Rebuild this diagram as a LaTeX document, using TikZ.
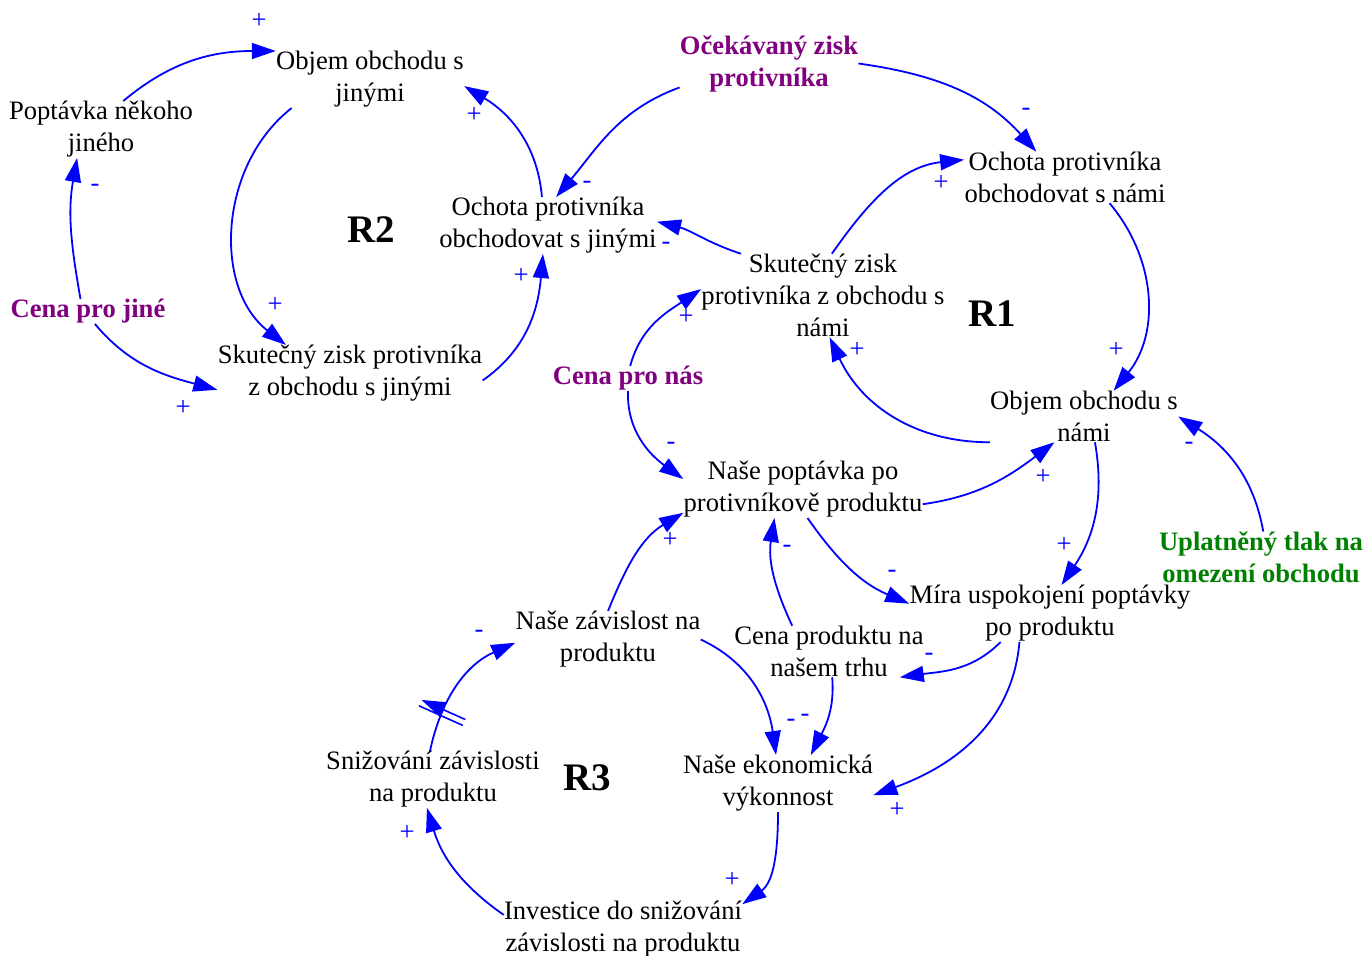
\documentclass[tikz,border=0pt]{standalone}
\usepackage{fontspec}
\setmainfont{Liberation Serif}
\usetikzlibrary{arrows.meta,decorations.markings}
\definecolor{exopurple}{RGB}{128,0,128}
\definecolor{exogreen}{RGB}{0,128,0}
\tikzset{
  var/.style={align=center, inner sep=0pt, yshift=-1.75pt, font=\fontsize{13.3}{16}\selectfont},
  exo/.style={var, font=\fontsize{13.3}{16}\selectfont\bfseries},
  loopname/.style={inner sep=0pt, font=\fontsize{19.5}{23}\selectfont\bfseries},
  link/.style={draw=blue, line width=0.9pt, -{Triangle[length=12pt,width=8pt]}},
  sign/.style={text=blue, inner sep=0pt, font=\fontsize{13.3}{16}\selectfont},
  delay/.style={postaction=decorate, decoration={markings,
    mark=at position #1 with {\draw[blue, line width=0.8pt] (-1.6pt,-12pt) -- (-1.6pt,12pt) (1.6pt,-12pt) -- (1.6pt,12pt);}}}
}
\begin{document}
\begin{tikzpicture}[x=0.5pt, y=-0.5pt]
\useasboundingbox (0,0) rectangle (1367,955);
% promenne
\node[var] (objJ) at (370,76) {Objem obchodu s\\jinými};
\node[var] (poptJ) at (101,126) {Poptávka někoho\\jiného};
\node[exo, text=exopurple] (cenaJ) at (88,308) {Cena pro jiné};
\node[var] (skutJ) at (350,370) {Skutečný zisk protivníka\\z obchodu s jinými};
\node[var] (ochJ) at (548,222) {Ochota protivníka\\obchodovat s jinými};
\node[exo, text=exopurple] (ocek) at (769,60) {Očekávaný zisk\\protivníka};
\node[var] (ochN) at (1065,174) {Ochota protivníka\\obchodovat s námi};
\node[var] (skutN) at (823,292) {Skutečný zisk\\protivníka z obchodu s\\námi};
\node[exo, text=exopurple] (cenaN) at (628,375) {Cena pro nás};
\node[var] (objN) at (1084,413) {Objem obchodu s\\námi};
\node[var] (poptN) at (803,486) {Naše poptávka po\\protivníkově produktu};
\node[exo, text=exogreen] (uplat) at (1261,554) {Uplatněný tlak na\\omezení obchodu};
\node[var] (mira) at (1050,610) {Míra uspokojení poptávky\\po produktu};
\node[var] (zavis) at (608,636) {Naše závislost na\\produktu};
\node[var] (cenaP) at (829,648) {Cena produktu na\\našem trhu};
\node[var] (snizov) at (433,776) {Snižování závislosti\\na produktu};
\node[var] (ekon) at (778,780) {Naše ekonomická\\výkonnost};
\node[var] (invest) at (623,926) {Investice do snižování\\závislosti na produktu};
% smycky
\node[loopname] (R1) at (992,314) {R1};
\node[loopname] (R2) at (371,230) {R2};
\node[loopname] (R3) at (587,778) {R3};
% vazby
\draw[link] (poptJ.52) to[out=40,in=180] (objJ.north west);
\draw[link] (objJ.200) to[out=218,in=142] (skutJ.156);
\draw[link] (cenaJ.121) to[out=100,in=-100] (poptJ.230);
\draw[link] (cenaJ.-61) to[out=-50,in=165] (skutJ.187);
\draw[link] (ochJ.102) to[out=95,in=-31] (objJ.-4);
\draw[link] (skutJ.-3) to[out=35,in=-95] (ochJ.260);
\draw[link] (ocek.195) to[out=200,in=50] (ochJ.74);
\draw[link] (ocek.0) to[out=-8,in=132] (ochN.138);
\draw[link] (skutN.153) to[out=162,in=-14] (ochJ.2);
\draw[link] (skutN.78) to[out=55,in=186] (ochN.170);
\draw[link] (ochN.-30) to[out=-50,in=51] (objN.41);
\draw[link] (objN.south west) to[out=180,in=-65] (skutN.279);
\draw[link] (cenaN.80) to[out=75,in=214] (skutN.177);
\draw[link] (cenaN.south) to[out=268,in=144] (poptN.175);
\draw[link] (poptN.-7) to[out=8,in=217] (objN.221);
\draw[link] (objN.293) to[out=-80,in=56] (mira.68);
\draw[link] (uplat.85) to[out=100,in=-32] (objN.east);
\draw[link] (poptN.279) to[out=-55,in=157] (mira.176);
\draw[link] (zavis.north) to[out=68,in=211] (poptN.191);
\draw[link] (cenaP.145) to[out=115,in=261] (poptN.225);
\draw[link] (mira.210) to[out=225,in=8] (cenaP.-20);
\draw[link] (mira.223) to[out=-95,in=20] (ekon.-7);
\draw[link] (zavis.east) to[out=-25,in=98] (ekon.94);
\draw[link] (cenaP.277) to[out=-85,in=63] (ekon.41);
\draw[link] (ekon.south) to[out=-90,in=35] (invest.12);
\draw[link] (invest.173) to[out=145,in=-73] (snizov.258);
\draw[link, delay=0.28] (snizov.96) to[out=78,in=204] (zavis.182);
% polarity
\foreach \x/\y/\s [count=\i] in {259/21/+, 275/305/+, 95/188/-, 183/408/+, 474/115/+,
  521/276/+, 587/185/-, 1026/112/-, 666/246/-, 941/183/+, 1116/350/+, 857/350/+,
  686/317/+, 671/446/-, 1043/477/+, 1064/545/+, 1189/446/-, 892/574/-, 670/540/+,
  787/549/-, 929/657/-, 897/810/+, 791/723/-, 805/718/-, 732/880/+, 407/833/+, 479/634/-}
  \node[sign] (sg\i) at (\x,\y) {\s};
\end{tikzpicture}
\end{document}
